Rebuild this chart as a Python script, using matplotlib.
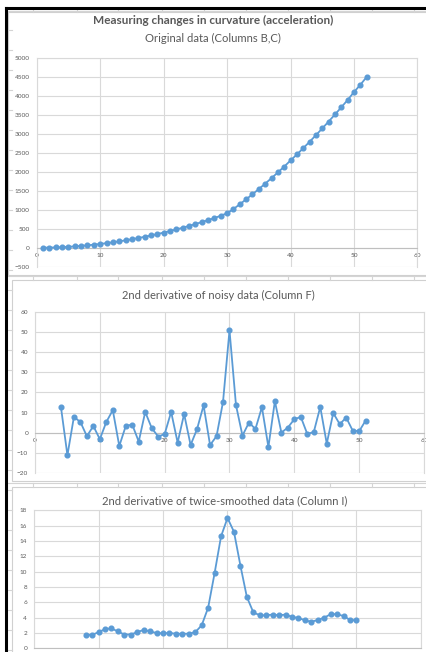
import matplotlib
matplotlib.use("Agg")
import matplotlib.pyplot as plt
from matplotlib.patches import Rectangle
from matplotlib.lines import Line2D

# ---------------- data ----------------
x_orig = list(range(1, 53))
y_orig = [1, 4, 9, 16, 25, 36, 49, 64, 81, 100, 121, 144, 169, 196, 225, 256,
          289, 324, 361, 400, 441, 484, 529, 576, 625, 677, 729, 784, 845, 912,
          1022, 1148, 1278, 1412, 1550, 1692, 1838, 1988, 2142, 2305, 2462, 2628,
          2798, 2972, 3150, 3332, 3518, 3708, 3902, 4110, 4302, 4510]

x_noisy = list(range(4, 52))
y_noisy = [12.8, -11.3, 7.8, 5.3, -1.8, 3.3, -3.3, 5.3, 11.2, -6.7, 3.3, 4.0,
           -4.5, 10.3, 2.3, -2.0, -0.7, 10.3, -5.0, 9.3, -6.2, 1.8, 13.6, -6.2,
           -1.8, 15.3, 51.0, 13.7, -1.5, 5.0, 1.8, 12.7, -7.2, 15.7, 0.0, 2.5,
           6.7, 7.8, -0.7, 0.3, 12.8, -5.5, 9.8, 4.2, 7.5, 1.0, 0.7, 6.0]

x_smooth = list(range(8, 51))
y_smooth = [1.75, 1.75, 2.1, 2.5, 2.6, 2.2, 1.8, 1.8, 2.1, 2.4, 2.2, 2.0, 1.95,
            2.0, 1.9, 1.9, 1.9, 2.1, 3.0, 5.3, 9.8, 14.6, 17.0, 15.2, 10.8, 6.7,
            4.7, 4.3, 4.3, 4.4, 4.3, 4.4, 4.1, 3.95, 3.65, 3.45, 3.7, 4.0, 4.45,
            4.45, 4.2, 3.7, 3.65]

titles = ["Measuring changes in curvature (acceleration)",
          "Original data (Columns B,C)",
          "2nd derivative of noisy data (Column F)",
          "2nd derivative of twice-smoothed data (Column I)"]

# ---------------- style ----------------
W, H = 427, 652
BLUE = "#5B9BD5"
GRID = "#D9D9D9"
TXT = "#595959"
FONT = ["Lato", "DejaVu Sans"]
plt.rcParams["font.family"] = FONT

fig = plt.figure(figsize=(W / 100, H / 100), dpi=100)
fig.patch.set_facecolor("white")

# background "spreadsheet" layer in pixel coordinates
bg = fig.add_axes([0, 0, 1, 1], zorder=-10)
bg.set_xlim(0, W)
bg.set_ylim(H, 0)
bg.axis("off")
cell_grid = "#D4D4D4"
col_x = [33, 77, 118, 162, 204, 246, 288, 330, 372, 414]
for yy in [10.5, 276, 483]:
    bg.add_line(Line2D([7, W], [yy, yy], color=cell_grid, lw=0.8))
for cx in col_x:
    for (a, b) in [(9, 12), (276, 280), (483, 487)]:
        bg.add_line(Line2D([cx, cx], [a, b], color=cell_grid, lw=0.8))
for ry in range(30, H, 20):
    bg.add_line(Line2D([7, 12], [ry, ry], color=cell_grid, lw=0.8))
# chart frames
for (x0, y0, x1, y1) in [(8.5, 11.5, W + 2, 275), (12, 279.5, W + 2, 481),
                         (12, 486.5, W + 2, H + 2)]:
    bg.add_patch(Rectangle((x0, y0), x1 - x0, y1 - y0, facecolor="white",
                           edgecolor="#D0D0D0", lw=0.8))
# black sheet borders
bg.add_line(Line2D([6.5, W], [8.2, 8.2], color="black", lw=2.2))
bg.add_line(Line2D([6.5, 6.5], [8.2, H], color="black", lw=2.2))


def pax(x0, x1, ytop, ybot):
    return fig.add_axes([x0 / W, 1 - ybot / H, (x1 - x0) / W, (ybot - ytop) / H])


def style(ax, xlim, ylim, yticks, zero_axis):
    ax.set_facecolor("none")
    ax.set_xlim(*xlim)
    ax.set_ylim(*ylim)
    ax.set_xticks(range(0, 61, 10))
    ax.set_yticks(yticks)
    ax.grid(True, color=GRID, lw=0.8)
    ax.set_axisbelow(True)
    for s in ["top", "right", "left"]:
        ax.spines[s].set_color(GRID)
        ax.spines[s].set_linewidth(0.8)
    ax.spines["bottom"].set_color("#BFBFBF")
    ax.spines["bottom"].set_linewidth(0.8)
    if zero_axis:
        ax.spines["bottom"].set_position(("data", 0))
    ax.tick_params(length=0, labelsize=4.6, labelcolor=TXT, pad=5)
    ax.tick_params(axis="x", pad=4)


LW, MS = 1.3, 3.4

ax1 = pax(36.7, 417.5, 58.3, 266.7)
style(ax1, (0, 60), (-500, 5000), range(-500, 5001, 500), True)
ax1.plot(x_orig, y_orig, color=BLUE, lw=LW, marker="o", ms=MS, zorder=3)

ax2 = pax(35, 424, 312.3, 472.7)
style(ax2, (0, 60), (-20, 60), range(-20, 61, 10), True)
ax2.plot(x_noisy, y_noisy, color=BLUE, lw=LW, marker="o", ms=MS, zorder=3)

ax3 = pax(34, 421, 510.3, 648.3)
style(ax3, (0, 60), (0, 18), range(0, 19, 2), False)
ax3.tick_params(axis="x", labelbottom=False)
ax3.plot(x_smooth, y_smooth, color=BLUE, lw=LW, marker="o", ms=MS, zorder=3)

# titles
fig.text(213 / W, 1 - 20.5 / H, titles[0], ha="center", va="center",
         fontsize=8.5, fontweight="bold", color=TXT)
fig.text(213 / W, 1 - 38 / H, titles[1], ha="center", va="center",
         fontsize=8.1, color=TXT)
fig.text(218 / W, 1 - 295 / H, titles[2], ha="center", va="center",
         fontsize=8.0, color=TXT)
fig.text(225 / W, 1 - 500.5 / H, titles[3], ha="center", va="center",
         fontsize=8.1, color=TXT)

fig.savefig("out.png", dpi=100)
